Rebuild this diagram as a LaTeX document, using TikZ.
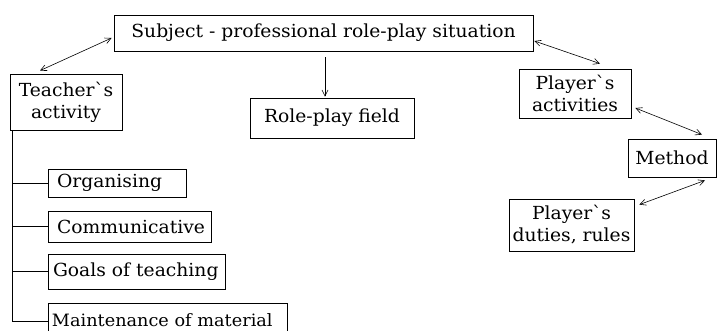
\documentclass[tikz,border=0pt]{standalone}
\usepackage{fontspec}
\setmainfont{DejaVu Serif}[FakeStretch=1.04]
\usetikzlibrary{arrows.meta,calc}
\tikzset{
  box/.style={draw, line width=0.8pt, inner sep=0pt, align=center,
    font=\fontsize{18}{22}\selectfont},
  lbox/.style={draw, line width=0.8pt, inner ysep=0pt, inner xsep=5pt, align=left,
    font=\fontsize{18}{22}\selectfont},
  dbl/.style={line width=0.6pt, {Straight Barb[length=6pt,width=6pt]}-{Straight Barb[length=6pt,width=6pt]}},
  sgl/.style={line width=0.6pt, -{Straight Barb[length=6pt,width=6pt]}},
  tree/.style={line width=0.8pt}
}
\begin{document}
\begin{tikzpicture}[x=1pt,y=-1pt]
\useasboundingbox (0,0) rectangle (724,331);
\node[box, minimum width=419pt, minimum height=36pt] (subj) at (323.5,33) {Subject - professional role-play situation};
\node[box, minimum width=112pt, minimum height=56pt] (teach) at (66,102) {Teacher\textasciigrave s\\activity};
\node[box, minimum width=164pt, minimum height=40pt] (field) at (332,118) {Role-play field};
\node[box, minimum width=112pt, minimum height=49pt] (pact) at (575,93.5) {Player\textasciigrave s\\activities};
\node[box, minimum width=88pt, minimum height=38pt] (method) at (672,158) {Method};
\node[box, minimum width=125pt, minimum height=52pt] (duties) at (571.5,225) {Player\textasciigrave s\\duties, rules};
\node[lbox, text width=120pt, minimum height=28pt, inner xsep=9pt] (org) at (117,183) {Organising};
\node[lbox, text width=145pt, minimum height=31pt, inner xsep=9pt] (comm) at (129.5,226.5) {Communicative};
\node[lbox, text width=167pt, minimum height=35pt, inner xsep=5pt] (goals) at (136.5,271.5) {Goals of teaching};
\node[lbox, text width=231pt, minimum height=34pt, inner xsep=4pt, font=\fontsize{17}{22}\selectfont] (maint) at (167.5,320) {\mbox{Maintenance of material}};
% connectors
\draw[dbl] ([xshift=-26pt,yshift=3pt]teach.north) -- ([xshift=-2pt,yshift=-5pt]subj.west);
\draw[sgl] ([xshift=1.5pt,yshift=-6pt]subj.south) -- ([xshift=-7pt,yshift=1pt]field.north);
\draw[dbl] ([xshift=1pt,yshift=-8pt]subj.east) -- ([xshift=25pt,yshift=5pt]pact.north);
\draw[dbl] ([xshift=4pt,yshift=-14.5pt]pact.east) -- ([xshift=30pt,yshift=4pt]method.north);
\draw[dbl] ([xshift=33pt,yshift=-3pt]method.south) -- ([xshift=5pt,yshift=-6pt]duties.north east);
% tree
\coordinate (vtop) at ([xshift=3pt]teach.south west);
\draw[tree] (vtop) |- ([yshift=-1pt]maint.west);
\draw[tree] (org.west) -- (org.west -| vtop);
\draw[tree] (comm.west) -- (comm.west -| vtop);
\draw[tree] (goals.west) -- (goals.west -| vtop);
\end{tikzpicture}
\end{document}
